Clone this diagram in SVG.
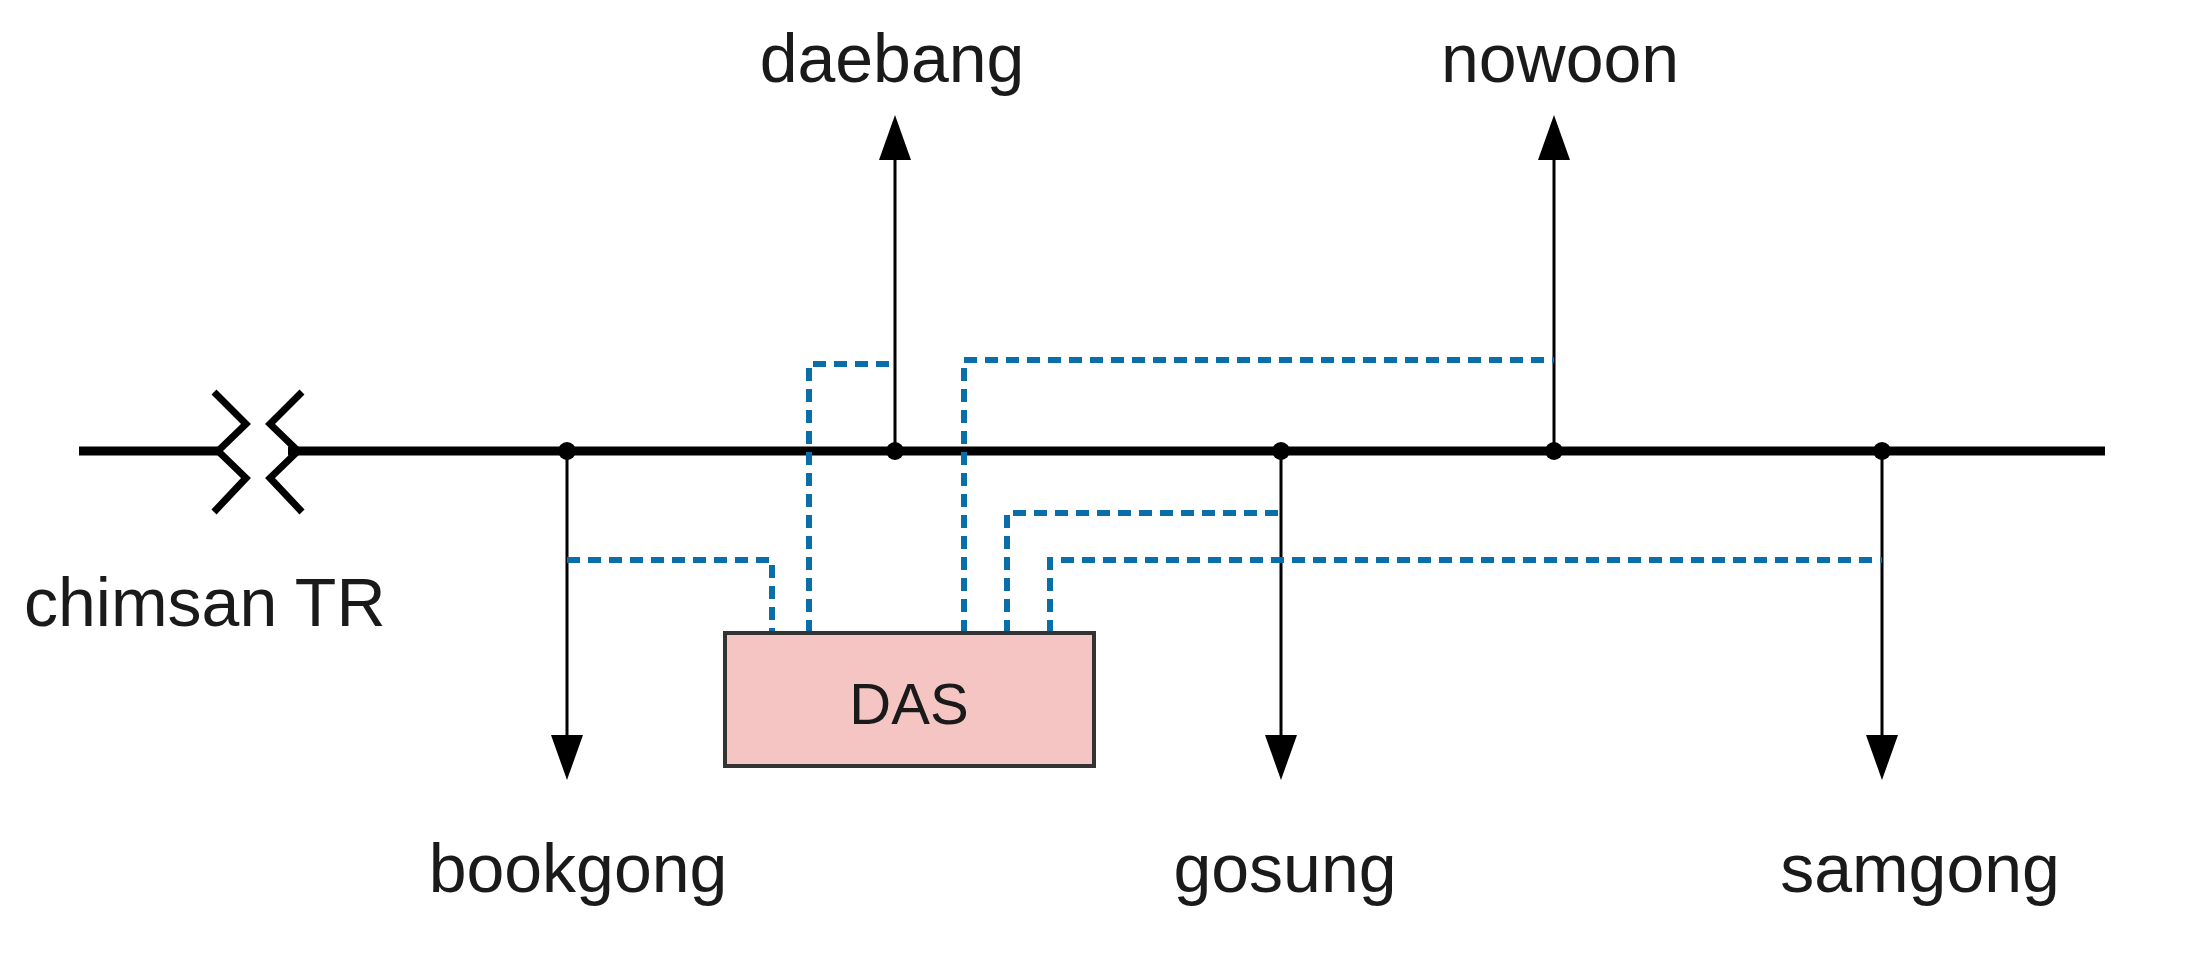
<svg xmlns="http://www.w3.org/2000/svg" width="2187" height="960" viewBox="0 0 2187 960">
<style>
.lbl{font-family:"Liberation Sans",Arial,sans-serif;font-size:68px;fill:#1a1a1a;text-anchor:middle}
.feed{stroke:#000;stroke-width:3;fill:none}
.dash{stroke:#0a6ea8;stroke-width:6;fill:none;stroke-dasharray:13 8}
</style>
<rect width="2187" height="960" fill="#fff"/>
<g id="connectors">
<line x1="79" y1="451" x2="218" y2="451" stroke="#000" stroke-width="9"/>
<line x1="288" y1="451" x2="2105" y2="451" stroke="#000" stroke-width="9"/>
<path class="feed" d="M567 451 V745"/><polygon points="551,735 583,735 567,780"/>
<path class="feed" d="M895 451 V150"/><polygon points="879,160 911,160 895,115"/>
<path class="feed" d="M1281 451 V745"/><polygon points="1265,735 1297,735 1281,780"/>
<path class="feed" d="M1554 451 V150"/><polygon points="1538,160 1570,160 1554,115"/>
<path class="feed" d="M1882 451 V745"/><polygon points="1866,735 1898,735 1882,780"/>
<circle cx="567" cy="451" r="9"/><circle cx="895" cy="451" r="9"/><circle cx="1281" cy="451" r="9"/><circle cx="1554" cy="451" r="9"/><circle cx="1882" cy="451" r="9"/>
<path class="dash" d="M567 560 H772 V633"/>
<path class="dash" d="M809 633 V364 H895"/>
<path class="dash" d="M964 633 V360 H1554"/>
<path class="dash" d="M1007 633 V513 H1285"/>
<path class="dash" d="M1050 633 V560 H1882"/>
</g>
<g id="breaker" stroke="#000" stroke-width="7" fill="none">
<path d="M214 392 L246 424 L218 451 L246 478 L214 512"/>
<path d="M302 392 L270 424 L298 451 L270 478 L302 512"/>
</g>
<g id="das">
<rect x="725" y="633" width="369" height="133" fill="#f5c5c3" stroke="#333" stroke-width="4"/>
<text x="909" y="724" class="lbl" style="font-size:58px">DAS</text>
</g>
<g id="labels">
<text x="892" y="82" class="lbl">daebang</text>
<text x="1560" y="82" class="lbl">nowoon</text>
<text x="24" y="626" class="lbl" style="text-anchor:start">chimsan TR</text>
<text x="578" y="892" class="lbl">bookgong</text>
<text x="1285" y="892" class="lbl">gosung</text>
<text x="1920" y="892" class="lbl">samgong</text>
</g>
</svg>
